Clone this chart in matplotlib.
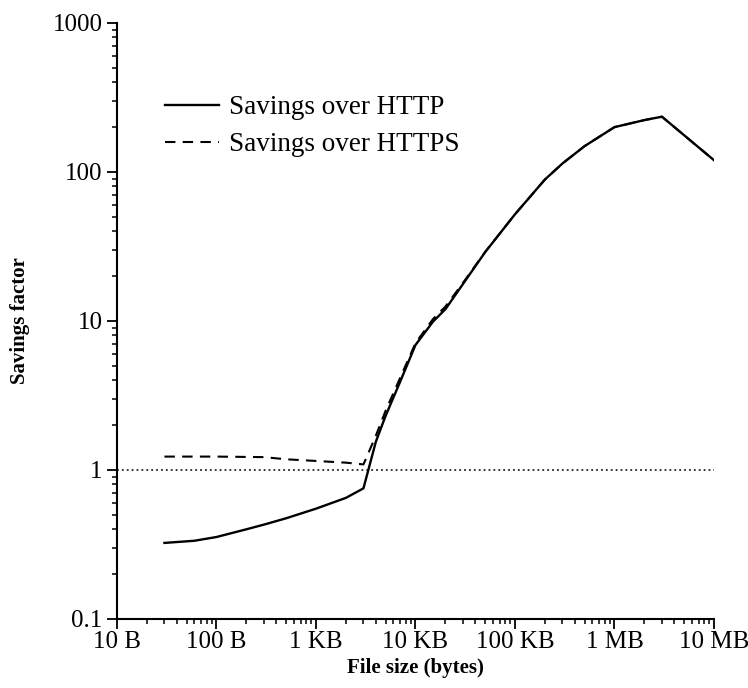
import matplotlib
matplotlib.use("Agg")
import matplotlib.pyplot as plt
from matplotlib.ticker import FixedLocator, LogLocator, NullFormatter

plt.rcParams['font.family'] = ['Liberation Serif', 'DejaVu Serif']

# File sizes (bytes)
sizes_http = [30, 60, 100, 200, 300, 500, 1000, 2000, 3000, 4000, 5000, 7000,
              10000, 15000, 20000, 30000, 50000, 100000, 200000, 300000,
              500000, 1000000, 2000000, 3000000, 10000000]
savings_http = [0.324, 0.335, 0.355, 0.40, 0.43, 0.474, 0.55, 0.65, 0.753, 1.55,
                2.30, 3.9, 6.9, 9.9, 12.0, 17.7, 28.9, 52, 89, 114,
                149, 200, 223, 235, 120]

sizes_https = [30, 100, 300, 500, 1000, 2000, 3000, 4000, 5000, 7000,
               10000, 15000, 20000, 30000, 50000, 100000, 200000, 300000,
               500000, 1000000, 2000000, 3000000, 10000000]
savings_https = [1.23, 1.23, 1.22, 1.18, 1.15, 1.12, 1.09, 1.70, 2.49, 4.14,
                 7.1, 10.3, 12.5, 18.0, 29.0, 52, 89, 114,
                 149, 200, 223, 235, 120]

x_ticks = [10, 100, 1000, 10000, 100000, 1000000, 10000000]
x_tick_labels = ['10 B', '100 B', '1 KB', '10 KB', '100 KB', '1 MB', '10 MB']
y_ticks = [0.1, 1, 10, 100, 1000]
y_tick_labels = ['0.1', '1', '10', '100', '1000']

fig = plt.figure(figsize=(7.48, 6.88), dpi=100)
ax = fig.add_axes([0.1564, 0.1003, 0.7981, 0.8663])

ax.plot(sizes_http, savings_http, color='black', lw=1.7, ls='-',
        label='Savings over HTTP')
ax.plot(sizes_https, savings_https, color='black', lw=1.5, ls=(0, (5, 3.5)),
        label='Savings over HTTPS')
ax.axhline(1, color='black', lw=1.1, ls=(0, (1.2, 2.0)))

ax.set_xscale('log')
ax.set_yscale('log')
ax.set_xlim(10, 1e7)
ax.set_ylim(0.1, 1000)

ax.xaxis.set_major_locator(FixedLocator(x_ticks))
ax.set_xticklabels(x_tick_labels)
ax.yaxis.set_major_locator(FixedLocator(y_ticks))
ax.set_yticklabels(y_tick_labels)
ax.xaxis.set_minor_locator(LogLocator(base=10, subs=range(2, 10), numticks=20))
ax.yaxis.set_minor_locator(LogLocator(base=10, subs=range(2, 10), numticks=20))
ax.xaxis.set_minor_formatter(NullFormatter())
ax.yaxis.set_minor_formatter(NullFormatter())

ax.tick_params(which='major', direction='out', length=7.5, width=1.3,
               labelsize=18)
ax.tick_params(axis='y', which='major', pad=3)
ax.tick_params(axis='x', which='major', pad=1)
ax.tick_params(which='minor', direction='out', length=3.5, width=1.1)

for s in ['top', 'right']:
    ax.spines[s].set_visible(False)
for s in ['left', 'bottom']:
    ax.spines[s].set_linewidth(1.5)

ax.set_xlabel('File size (bytes)', fontsize=15, fontweight='bold', labelpad=4)
ax.set_ylabel('Savings factor', fontsize=15, fontweight='bold', labelpad=16)

ax.legend(loc='upper left', bbox_to_anchor=(0.04, 0.92), frameon=False,
          fontsize=19.5, handlelength=2.0, handletextpad=0.35,
          labelspacing=0.45)

fig.savefig('out.png', dpi=100)
